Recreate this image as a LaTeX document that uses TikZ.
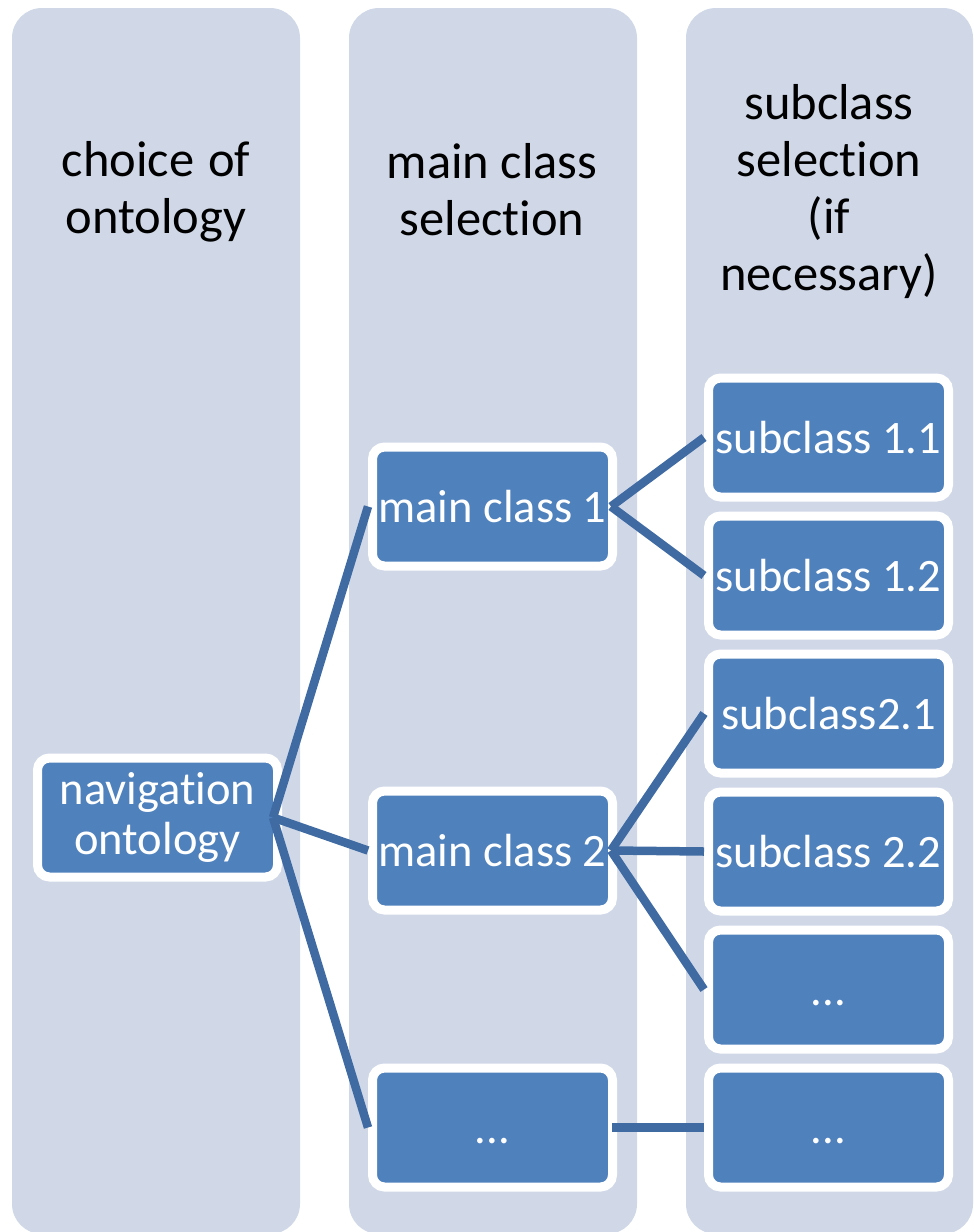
\documentclass[tikz,border=0pt]{standalone}
\usepackage{fontspec}
\setmainfont[RawFeature=-liga]{Carlito}
\definecolor{lanebg}{HTML}{D0D8E8}
\definecolor{boxblue}{HTML}{4F81BD}
\definecolor{linkblue}{HTML}{3F6AA2}
\tikzset{
  lane/.style={fill=lanebg, rounded corners=30pt},
  head/.style={font=\fontsize{50.5}{57}\selectfont, align=center, text=black, inner sep=0pt},
  item/.style={draw=white, line width=9pt, fill=boxblue, rounded corners=12pt,
    minimum width=240pt, minimum height=119pt, inner sep=0pt, text=white,
    font=\fontsize{46.5}{50}\selectfont, align=center},
  link/.style={draw=linkblue, line width=8.5pt},
}
\begin{document}
\begin{tikzpicture}[x=1pt,y=-1pt]
\useasboundingbox (0,0) rectangle (974,1232);
\clip (0,0) rectangle (974,1232);

% three lanes
\fill[lane] (12,8) rectangle (300,1234);
\fill[lane] (349,8) rectangle (637,1234);
\fill[lane] (686,8) rectangle (973,1234);

% lane headings
\node[head] (h1) at (156,192) {choice\hspace{0.27em}of\\ontology};
\node[head] (h2) at (492,190) {main class\\selection};
\node[head] (h3) at (829,192) {subclass\\selection\\(if\\necessary)};

% root
\node[item] (nav) at (157.5,817.5) {navigation\\ontology};

% main classes
\node[item] (m1) at (492.5,506.5) {main class 1};
\node[item] (m2) at (492.5,850.5) {main class 2};
\node[item] (m3) at (492.5,1127.5) {\vphantom{b}...};

% subclasses
\node[item] (s1) at (828.5,437.5) {subclass 1.1};
\node[item] (s2) at (828.5,575.5) {subclass 1.2};
\node[item] (s3) at (828.5,713.5) {subclass2.1};
\node[item] (s4) at (828.5,851.5) {subclass 2.2};
\node[item] (s5) at (828.5,989.5) {\vphantom{b}...};
\node[item] (s6) at (828.5,1127.5) {\vphantom{b}...};

% connectors
\draw[link] ([xshift=-9pt]nav.east) -- (m1.west);
\draw[link] ([xshift=-9pt]nav.east) -- (m2.west);
\draw[link] ([xshift=-9pt]nav.east) -- (m3.west);
\draw[link] ([xshift=-6pt]m1.east) -- (s1.west);
\draw[link] ([xshift=-6pt]m1.east) -- (s2.west);
\draw[link] ([xshift=-6pt]m2.east) -- (s3.west);
\draw[link] ([xshift=-6pt]m2.east) -- (s4.west);
\draw[link] ([xshift=-6pt]m2.east) -- (s5.west);
\draw[link] ([xshift=-5pt]m3.east) -- (s6.west);
\end{tikzpicture}
\end{document}
